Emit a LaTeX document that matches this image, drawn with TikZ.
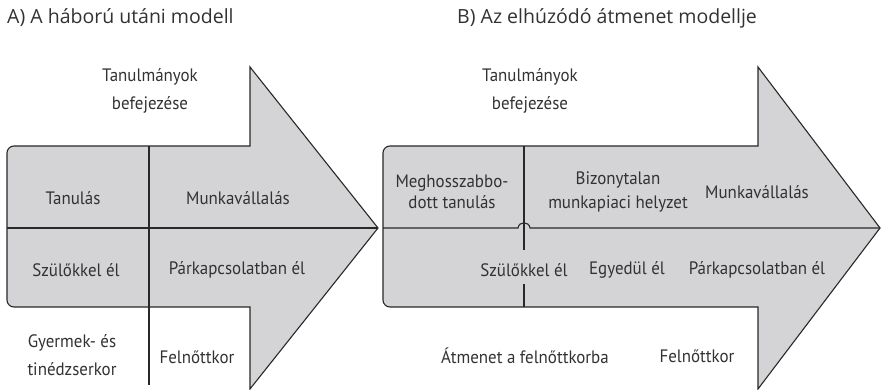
\documentclass[tikz,border=0pt]{standalone}
\usepackage{fontspec}
\setmainfont{PT Sans}[FakeStretch=0.94]
\newfontfamily\titlefont{Open Sans}
\definecolor{fillc}{RGB}{212,212,214}
\definecolor{ln}{RGB}{40,40,40}
\definecolor{txt}{RGB}{50,50,50}
\begin{document}
\begin{tikzpicture}[x=1pt,y=-1pt,
  lbl/.style={font=\fontsize{18}{21}\selectfont, text=txt, inner sep=0pt, align=center},
  lblwide/.style={lbl, font=\fontsize{18}{28}\selectfont},
  ttl/.style={font=\titlefont\fontsize{19.5}{23}\selectfont, text=txt, inner sep=0pt, anchor=west},
  arrowshape/.style={draw=ln, fill=fillc, line width=1.1pt, line join=miter},
  divider/.style={draw=ln, line width=1.1pt}]
\useasboundingbox (0,0) rectangle (881,390);

% titles
\node[ttl] (tA) at (7,18) {A) A háború utáni modell};
\node[ttl] (tB) at (457,18) {B) Az elhúzódó átmenet modellje};

% ---------- Panel A ----------
\draw[arrowshape] (128,307) [rounded corners=7pt] -- (7,307) -- (7,146) -- (128,146) [sharp corners]
  -- (250,146) -- (250,67) -- (378,228) -- (250,389) -- (250,307) -- cycle;
\coordinate (aL) at (7,228);
\coordinate (aR) at (378,228);
\coordinate (aT) at (149,146);
\coordinate (aB) at (149,385);
\draw[divider] (aL) -- (aR);
\draw[divider] (aT) -- (aB);

\node[lblwide] (a1) at (150,91) {Tanulmányok\\befejezése};
\node[lbl] (a2) at (73,198) {Tanulás};
\node[lbl] (a3) at (238,198) {Munkavállalás};
\node[lbl] (a4) at (76,270) {Szülőkkel él};
\node[lbl] (a5) at (237,270) {Párkapcsolatban él};
\node[lblwide] (a6) at (72,355) {Gyermek- és\\tinédzserkor};
\node[lbl] (a7) at (197,357) {Felnőttkor};

% ---------- Panel B ----------
\draw[arrowshape] (500,307) [rounded corners=7pt] -- (383,307) -- (383,146) -- (500,146) [sharp corners]
  -- (758,146) -- (758,67) -- (880,228) -- (758,389) -- (758,307) -- cycle;
\coordinate (bL) at (383,228);
\coordinate (bR) at (880,228);
\coordinate (bT) at (524,146);
\coordinate (bM1) at (524,250);
\coordinate (bM2) at (524,284);
\coordinate (bB) at (524,307);
\draw[divider] (bL) -- (518,228) .. controls (519,221) and (529,221) .. (530,228) -- (bR);
\draw[divider] (bT) -- (bM1);
\draw[divider] (bM2) -- (bB);

\node[lblwide] (b1) at (530,91) {Tanulmányok\\befejezése};
\node[lbl, font=\fontsize{18}{21.5}\selectfont] (b2) at (452,192) {Meghosszabbo-\\dott tanulás};
\node[lbl, font=\fontsize{18}{24}\selectfont] (b3) at (618,192) {Bizonytalan\\munkapiaci helyzet};
\node[lbl] (b4) at (757,192) {Munkavállalás};
\node[lbl] (b5) at (524,270) {Szülőkkel él};
\node[lbl] (b6) at (627,270) {Egyedül él};
\node[lbl] (b7) at (757,270) {Párkapcsolatban él};
\node[lbl] (b8) at (525,356) {Átmenet a felnőttkorba};
\node[lbl] (b9) at (697,356) {Felnőttkor};
\end{tikzpicture}
\end{document}
